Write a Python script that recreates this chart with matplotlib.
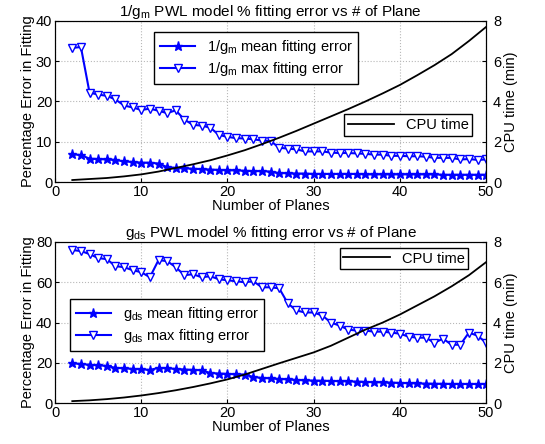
import matplotlib
matplotlib.use("Agg")
import matplotlib.pyplot as plt
import numpy as np

plt.rcParams['font.family'] = ['Liberation Sans', 'DejaVu Sans']
plt.rcParams['mathtext.fontset'] = 'custom'
plt.rcParams['mathtext.rm'] = 'Liberation Sans'
plt.rcParams['mathtext.it'] = 'Liberation Sans'

planes = list(range(2, 51))

gm_max = [33.3, 33.5, 22.2, 21.7, 21.4, 20.5, 19.0, 18.5, 17.9, 18.2, 17.7, 17.1, 17.8,
          15.5, 14.2, 14.0, 13.5, 11.7, 11.2, 10.9, 10.8, 10.6, 10.3, 10.2, 8.5, 8.3,
          8.1, 7.6, 7.6, 7.6, 7.3, 7.2, 7.2, 7.1, 7.0, 6.8, 6.8, 6.5, 6.5, 6.4, 6.4,
          6.3, 6.0, 6.0, 6.0, 5.6, 5.7, 5.5, 5.6]
gm_mean = [6.9, 6.7, 5.8, 5.7, 5.6, 5.5, 5.1, 5.0, 4.8, 4.8, 4.6, 3.7, 3.5, 3.4, 3.3,
           3.2, 3.1, 3.0, 2.9, 2.9, 2.8, 2.7, 2.7, 2.6, 2.2, 2.2, 2.1, 2.1, 2.0, 2.0,
           2.0, 2.0, 2.0, 2.0, 1.9, 1.9, 1.9, 1.9, 1.9, 1.9, 1.9, 1.9, 1.9, 1.8, 1.8,
           1.8, 1.8, 1.8, 1.8]

gds_max = [76, 75.5, 74, 72, 71.5, 68, 67.5, 66, 65, 62.5, 71, 70.5, 67.5, 63.5, 64,
           62.5, 63, 61.5, 61, 60.5, 60, 60.5, 57.5, 57.5, 57, 49.5, 46, 45, 45, 43.5,
           40, 38.5, 36.5, 36, 36, 35.5, 35.5, 35, 34.5, 33, 32.5, 32.5, 30, 32, 29, 29,
           35, 33.5, 30]
gds_mean = [19.7, 19.5, 19.0, 18.8, 18.5, 17.5, 17.3, 17.0, 16.8, 16.5, 17.5, 17.3, 17.0,
            16.7, 16.5, 16.3, 15.0, 14.7, 14.5, 14.3, 14.2, 13.0, 12.5, 12.3, 12.0, 11.8,
            11.5, 11.3, 11.2, 11.1, 11.0, 10.9, 10.8, 10.7, 10.5, 10.4, 10.3, 10.2, 10.0,
            9.9, 9.8, 9.7, 9.6, 9.6, 9.5, 9.5, 9.5, 9.5, 9.5]

cpu_planes = list(range(2, 51, 2))
cpu_gm = [0.10, 0.15, 0.20, 0.28, 0.38, 0.52, 0.70, 0.88, 1.08, 1.32, 1.58, 1.88, 2.20,
          2.54, 2.90, 3.26, 3.62, 4.00, 4.40, 4.82, 5.30, 5.80, 6.35, 7.00, 7.70]
cpu_gds = [0.10, 0.14, 0.20, 0.28, 0.38, 0.50, 0.64, 0.80, 0.98, 1.18, 1.42, 1.70, 1.98,
           2.25, 2.52, 2.85, 3.25, 3.65, 4.00, 4.40, 4.85, 5.30, 5.80, 6.35, 7.00]

fig = plt.figure(figsize=(5.45, 4.44), dpi=100)
blue = '#0000ff'
fs = 10.5


def panel(rect, mean, mx, cpu, ymax, name, leg_loc, cpu_loc, title):
    ax = fig.add_axes(rect)
    ax.plot(planes, mean, color=blue, lw=1.5, marker='*', ms=6.5, mfc=blue, mec=blue,
            label=name + ' mean fitting error')
    ax.plot(planes, mx, color=blue, lw=1.5, marker='v', ms=6, mfc='white', mec=blue,
            mew=1.0, label=name + ' max fitting error')
    ax.set_xlim(0, 50)
    ax.set_ylim(0, ymax)
    ax.set_xticks([0, 10, 20, 30, 40, 50])
    ax.set_yticks(np.linspace(0, ymax, 5))
    ax.grid(True, ls=':', color='#b8b8b8', lw=0.8)
    ax.tick_params(labelsize=fs, direction='in', length=3, pad=2)
    ax.set_xlabel('Number of Planes', fontsize=fs, labelpad=0)
    ax.set_ylabel('Percentage Error in Fitting', fontsize=fs, labelpad=1)
    ax.set_title(title, fontsize=11, pad=3)
    ax.legend(loc='upper left', bbox_to_anchor=leg_loc, fontsize=fs, frameon=True,
              fancybox=False, edgecolor='black', framealpha=1, handlelength=2.4,
              borderpad=0.4, labelspacing=0.3, borderaxespad=0)
    ax2 = ax.twinx()
    ax2.plot(cpu_planes, cpu, color='black', lw=1.3, label='CPU time')
    ax2.set_ylim(0, 8)
    ax2.set_yticks([0, 2, 4, 6, 8])
    ax2.tick_params(labelsize=fs, direction='in', length=3, pad=5)
    ax2.set_ylabel('CPU time (min)', fontsize=fs, labelpad=2)
    ax2.legend(loc='upper left', bbox_to_anchor=cpu_loc, fontsize=fs, frameon=True,
               fancybox=False, edgecolor='black', framealpha=1, handlelength=3.2,
               borderpad=0.25, borderaxespad=0)
    return ax


panel([0.101, 0.590, 0.791, 0.363], gm_mean, gm_max, cpu_gm, 40, r'1/g$_{\rm m}$',
      (0.23, 0.93), (0.67, 0.42),
      r'1/g$_{\rm m}$ PWL model % fitting error vs # of Plane')
panel([0.101, 0.092, 0.791, 0.363], gds_mean, gds_max, cpu_gds, 80, r'g$_{\rm ds}$',
      (0.035, 0.646), (0.66, 0.963),
      r'g$_{\rm ds}$ PWL model % fitting error vs # of Plane')

fig.savefig('out.png', dpi=100)
